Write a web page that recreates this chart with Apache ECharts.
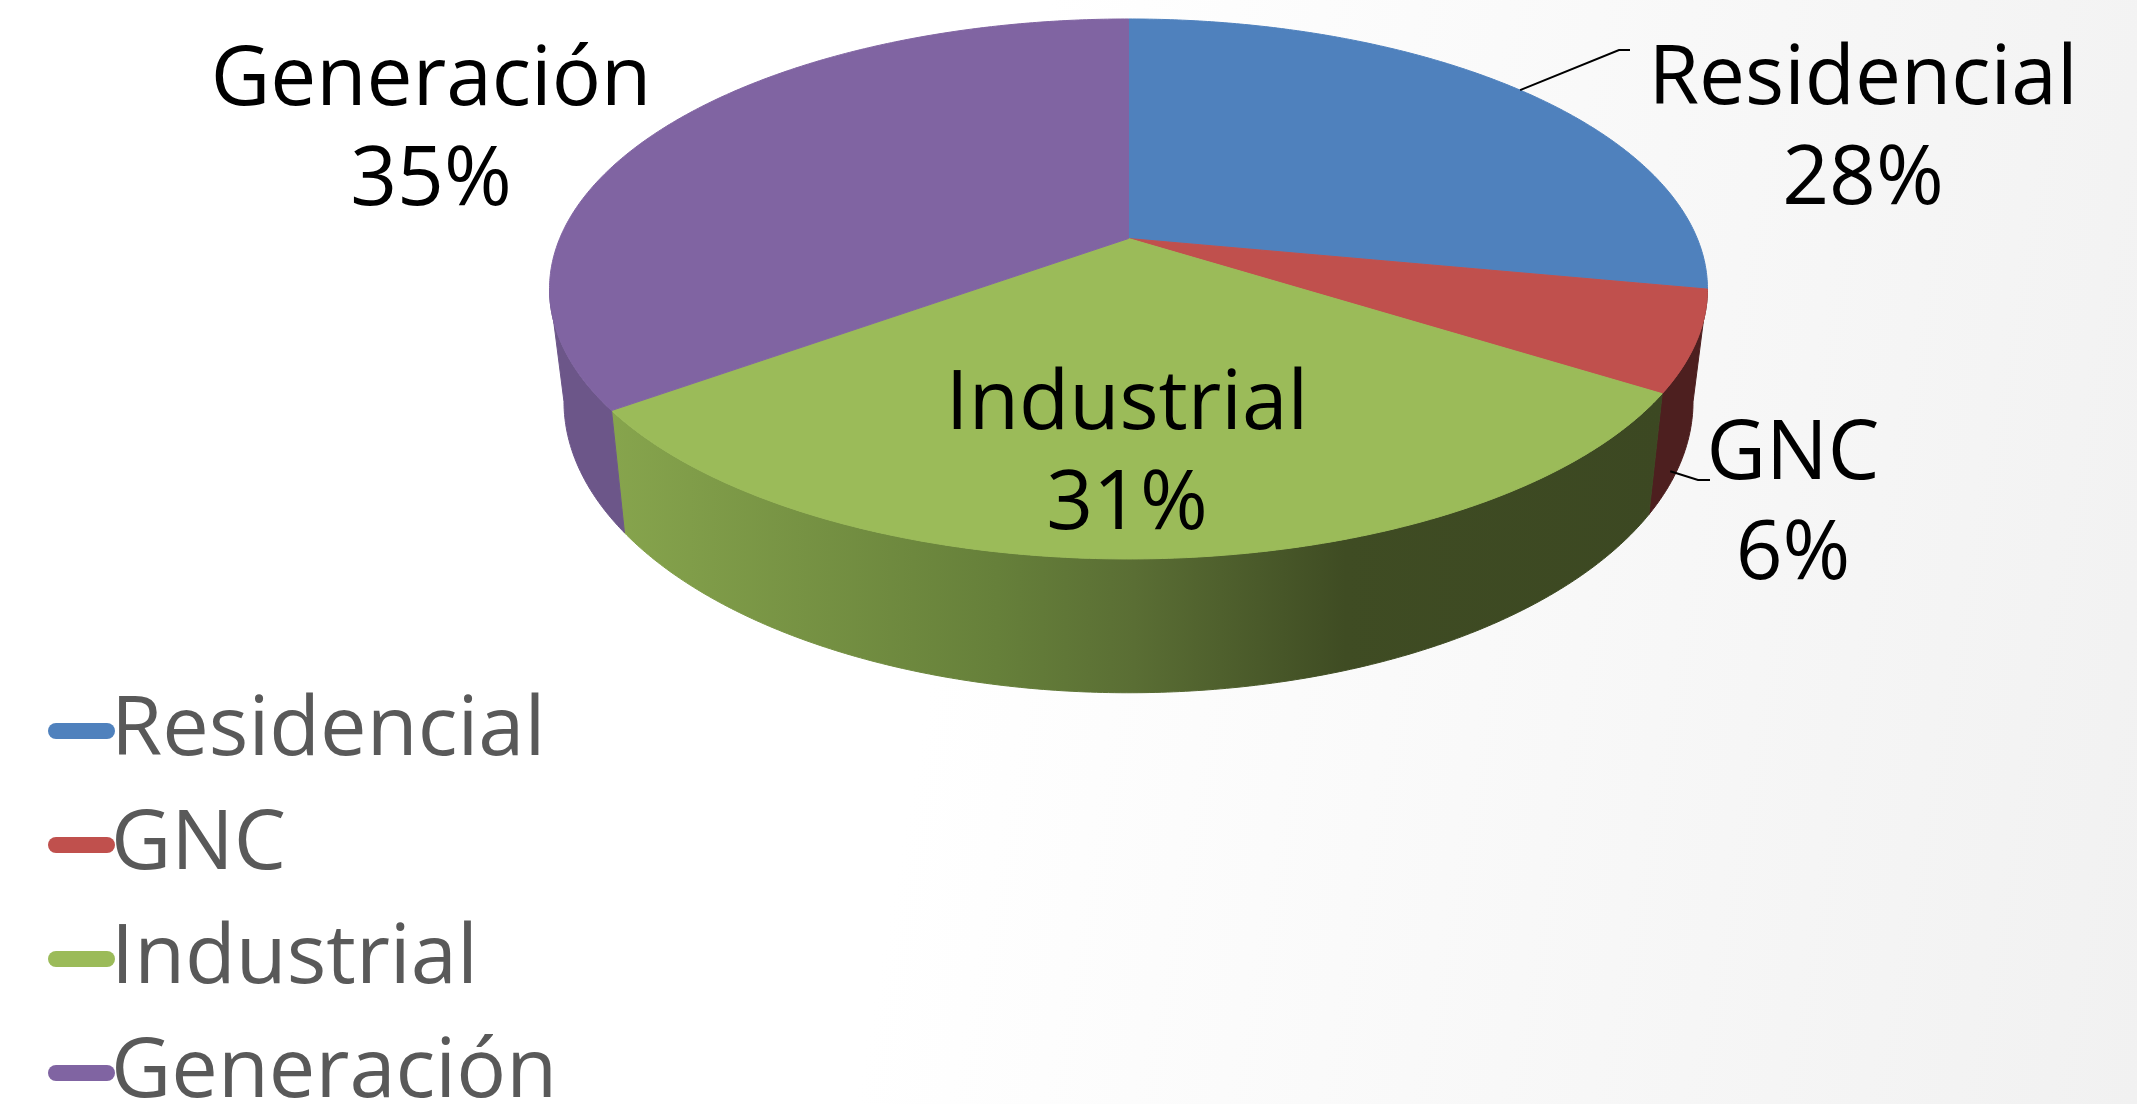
<!DOCTYPE html>
<html>
<head>
<meta charset="utf-8">
<script src="https://cdn.jsdelivr.net/npm/echarts@6/dist/echarts.min.js"></script>
<style>
  html, body { margin: 0; padding: 0; }
  body { background: linear-gradient(100deg, #ffffff 45%, #f1f1f1 100%); }
  #chart { width: 2137px; height: 1104px; }
</style>
</head>
<body>
<div id="chart"></div>
<script>
const categories = ['Residencial', 'GNC', 'Industrial', 'Generación'];
const values = [28, 6, 31, 35];

const topColors = ['#4F81BD', '#C0504D', '#9BBB59', '#8064A2'];

// perspective of the tilted disc (full-size pixels)
const view = { cx: 1128.5, cy: 238.5, px: 3043, py: 1394, d: 5.35, depth: 582, shrink: 0.975 };
const visFrom = Math.acos(-1 / view.d);
const visTo = 2 * Math.PI - visFrom;
const total = values.reduce((a, b) => a + b, 0);

// where each label sits; leader starts at a fraction of the slice angle and side depth
const labelLayout = [
  { x: 1863, y: 131, leader: { at: 0.5, depth: 0, elbow: [1619, 50], end: [1630, 50] } },
  { x: 1793, y: 506, leader: { at: 0.75, depth: 0.87, elbow: [1698, 480], end: [1710, 480] } },
  { x: 1127, y: 456 },
  { x: 431, y: 132 }
];

function project(t, bottom) {
  const X = Math.sin(t), Y = -Math.cos(t);
  const w = view.d - Y;
  let x = view.px * X / w;
  let y = view.py * Y / w;
  if (bottom) {
    x *= view.shrink;
    y += view.depth / w;
  }
  return [view.cx + x, view.cy + y];
}

function arc(a0, a1, bottom) {
  const n = Math.max(2, Math.ceil((a1 - a0) / (Math.PI / 360)));
  const pts = [];
  for (let k = 0; k <= n; k++) pts.push(project(a0 + (a1 - a0) * k / n, bottom));
  return pts;
}

function sideFill(i) {
  if (i === 2) {
    return new echarts.graphic.LinearGradient(606, 0, 1662, 0, [
      { offset: 0, color: '#87A54D' },
      { offset: 0.37, color: '#66803A' },
      { offset: 0.5, color: '#5A6E34' },
      { offset: 0.7, color: '#3F4C23' },
      { offset: 1, color: '#3C4822' }
    ], true);
  }
  if (i === 1) return '#4D1F1F';
  if (i === 3) return '#6C5689';
  return '#34577F';
}

function renderSlice(params, api) {
  const i = params.seriesIndex;
  let before = 0;
  for (let k = 0; k < i; k++) before += values[k];
  const a0 = before / total * 2 * Math.PI;
  const a1 = (before + api.value(0)) / total * 2 * Math.PI;
  const children = [];

  const s0 = Math.max(a0, visFrom), s1 = Math.min(a1, visTo);
  if (s1 - s0 > 0.005) {
    const fill = sideFill(i);
    const pts = arc(s0, s1, false).concat(arc(s0, s1, true).reverse());
    children.push({
      type: 'polygon',
      shape: { points: pts },
      style: { fill: fill, stroke: fill, lineWidth: 1, lineJoin: 'round' }
    });
  }

  const topPts = [[view.cx, view.cy]].concat(arc(a0, a1, false));
  children.push({
    type: 'polygon',
    shape: { points: topPts },
    style: { fill: topColors[i], stroke: topColors[i], lineWidth: 1, lineJoin: 'round' }
  });

  const lay = labelLayout[i];
  if (lay.leader) {
    const t = a0 + (a1 - a0) * lay.leader.at;
    const p0 = project(t, false), p1 = project(t, true);
    const f = lay.leader.depth;
    const start = [p0[0] + (p1[0] - p0[0]) * f, p0[1] + (p1[1] - p0[1]) * f];
    children.push({
      type: 'polyline',
      z2: 90,
      shape: { points: [start, lay.leader.elbow, lay.leader.end] },
      style: { stroke: '#000', lineWidth: 2, fill: null }
    });
  }

  children.push({
    type: 'text',
    z2: 100,
    style: {
      text: categories[i] + '\n' + Math.round(api.value(0) / total * 100) + '%',
      x: lay.x,
      y: lay.y,
      align: 'center',
      verticalAlign: 'middle',
      fontFamily: '"Open Sans"',
      fontSize: 82,
      lineHeight: 100,
      fill: '#000'
    }
  });

  return { type: 'group', children: children };
}

const chart = echarts.init(document.getElementById('chart'));
chart.setOption({
  animation: false,
  backgroundColor: 'transparent',
  legend: {
    orient: 'vertical',
    left: 48,
    top: 686,
    height: 700,
    padding: 0,
    itemWidth: 67,
    itemHeight: 16,
    itemGap: 24,
    selectedMode: false,
    icon: 'path://M8,0L59,0A8,8,0,0,1,59,16L8,16A8,8,0,0,1,8,0Z',
    textStyle: {
      fontFamily: '"Open Sans"',
      fontSize: 83,
      lineHeight: 90,
      padding: [0, 0, 0, -9],
      color: '#595959'
    },
    data: categories
  },
  series: categories.map((name, i) => ({
    type: 'custom',
    name: name,
    coordinateSystem: 'none',
    silent: true,
    itemStyle: { color: topColors[i] },
    renderItem: renderSlice,
    data: [values[i]]
  }))
});
</script>
</body>
</html>
